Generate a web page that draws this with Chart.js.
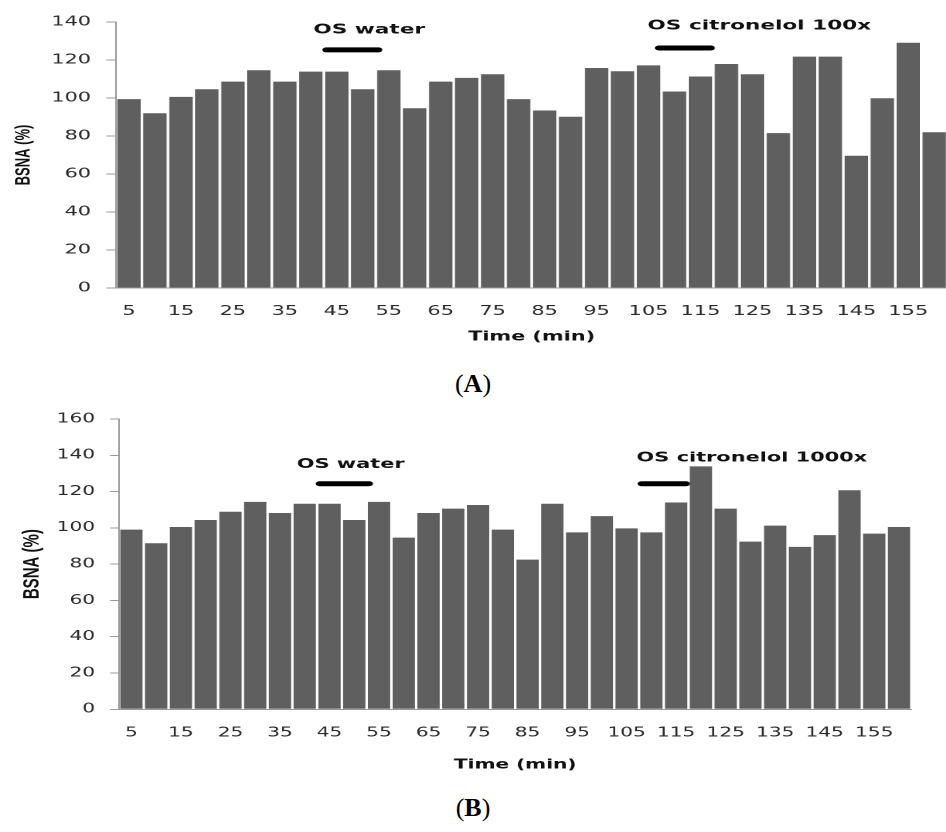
<!DOCTYPE html>
<html>
<head>
<meta charset="utf-8">
<script src="https://cdn.jsdelivr.net/npm/chart.js@4/dist/chart.umd.min.js"></script>
<style>
  html, body { margin: 0; padding: 0; background: #fff; }
  body { width: 946px; height: 832px; overflow: hidden; position: relative; }
  canvas { position: absolute; left: 0; }
  .panel-tag {
    position: absolute; left: 0; width: 946px; text-align: center;
    font-family: "Liberation Serif", "Times New Roman", serif;
    font-size: 26px; line-height: 30px; color: #000;
  }
</style>
</head>
<body>
<canvas id="chartA" width="600" height="350" style="top:0;width:960px;height:350px"></canvas>
<canvas id="chartB" width="612" height="380" style="top:400px;width:945.5px;height:380px"></canvas>
<div class="panel-tag" style="top:369px">(<b>A</b>)</div>
<div class="panel-tag" style="top:793px">(<b>B</b>)</div>
<script>
// Sampling times (min)
const times = [5, 10, 15, 20, 25, 30, 35, 40, 45, 50, 55, 60, 65, 70, 75, 80,
               85, 90, 95, 100, 105, 110, 115, 120, 125, 130, 135, 140, 145, 150, 155, 160];
// Times that carry a tick label on the x axis
const shownTimes = [5, 15, 25, 35, 45, 55, 65, 75, 85, 95, 105, 115, 125, 135, 145, 155];

// BSNA (%) per interval, citronelol 100x experiment
const bsnaA = [99.4, 92, 100.6, 104.6, 108.6, 114.6, 108.6, 113.9, 113.9, 104.6, 114.6, 94.6,
               108.6, 110.6, 112.5, 99.4, 93.4, 90.1, 115.8, 114.1, 117.2, 103.4, 111.3, 117.9,
               112.5, 81.5, 121.8, 121.8, 69.6, 99.9, 129.1, 82];
// BSNA (%) per interval, citronelol 1000x experiment
const bsnaB = [99, 91.5, 100.5, 104.3, 108.9, 114.3, 108.2, 113.3, 113.3, 104.3, 114.3, 94.6,
               108.2, 110.6, 112.6, 99, 82.5, 113.3, 97.5, 106.5, 99.7, 97.5, 114, 133.9,
               110.6, 92.4, 101.2, 89.5, 96, 120.7, 96.8, 100.5];

// Odour stimulation periods (min) and their captions
const stimuliA = [
  { label: 'OS water', from: 43, to: 53, textAt: 40.5, textLevel: 135.8, barLevel: 125.3 },
  { label: 'OS citronelol 100x', from: 107, to: 117, textAt: 104.8, textLevel: 137.9, barLevel: 126.3 }
];
const stimuliB = [
  { label: 'OS water', from: 43, to: 53, textAt: 38.4, textLevel: 134.8, barLevel: 124.3 },
  { label: 'OS citronelol 1000x', from: 108, to: 117, textAt: 107, textLevel: 138.6, barLevel: 124.3 }
];

const minuteToIndex = t => (t - times[0]) / (times[1] - times[0]);

// Black bars marking each stimulation period, with their captions
const stimulusMarkers = {
  id: 'stimulusMarkers',
  afterDatasetsDraw(chart, args, opts) {
    const { ctx, scales: { x, y } } = chart;
    (opts.items || []).forEach(m => {
      ctx.save();
      ctx.lineCap = 'round';
      ctx.lineWidth = 5;
      ctx.strokeStyle = '#000';
      const yb = y.getPixelForValue(m.barLevel);
      ctx.beginPath();
      ctx.moveTo(x.getPixelForValue(minuteToIndex(m.from)), yb);
      ctx.lineTo(x.getPixelForValue(minuteToIndex(m.to)), yb);
      ctx.stroke();
      ctx.font = 'bold 13.5px "DejaVu Sans"';
      ctx.fillStyle = '#111';
      ctx.textAlign = 'left';
      ctx.textBaseline = 'middle';
      ctx.fillText(m.label, x.getPixelForValue(minuteToIndex(m.textAt)), y.getPixelForValue(m.textLevel));
      ctx.restore();
    });
  }
};

const AXIS_GREY = '#9a9a9a';
const TEXT_DARK = '#2a2a2a';

function buildChart(id, values, yMax, stimuli, g) {
  return new Chart(document.getElementById(id), {
    type: 'bar',
    data: {
      labels: times.map(String),
      datasets: [{
        data: values,
        backgroundColor: '#5f5f5f',
        borderWidth: 0,
        barPercentage: 0.9,
        categoryPercentage: 1.0
      }]
    },
    options: {
      responsive: false,
      devicePixelRatio: 2,
      animation: false,
      events: [],
      layout: { padding: { top: g.top, right: g.right, left: 0, bottom: 0 } },
      plugins: {
        legend: { display: false },
        tooltip: { enabled: false },
        stimulusMarkers: { items: stimuli }
      },
      scales: {
        x: {
          grid: { display: false, drawTicks: false },
          border: { color: AXIS_GREY, width: 1 },
          ticks: {
            autoSkip: false, maxRotation: 0, minRotation: 0,
            padding: g.xTickPad,
            color: TEXT_DARK,
            font: { family: 'DejaVu Sans', size: 13 },
            callback: (v, i) => shownTimes.includes(times[i]) ? String(times[i]) : ''
          },
          title: {
            display: true, text: 'Time (min)', color: '#111',
            font: { family: 'DejaVu Sans', size: 13, weight: 'bold' },
            padding: { top: 0, bottom: g.xTitlePad }
          },
          afterFit: s => { s.height = g.xHeight; }
        },
        y: {
          min: 0, max: yMax,
          grid: { drawOnChartArea: false, drawTicks: true, tickLength: g.tickLen, color: AXIS_GREY, lineWidth: 1 },
          border: { color: AXIS_GREY, width: 1 },
          ticks: {
            stepSize: 20,
            padding: g.yTickPad,
            color: TEXT_DARK,
            font: { family: 'DejaVu Sans', size: 13 }
          },
          title: {
            display: true, text: 'BSNA (%)', color: '#111',
            font: { family: 'Liberation Sans', size: g.yTitleSize, weight: 'bold' },
            padding: { top: g.yTitlePad, bottom: 0 }
          },
          afterFit: s => { s.width = g.yWidth; }
        }
      }
    },
    plugins: [stimulusMarkers]
  });
}

buildChart('chartA', bsnaA, 140, stimuliA, {
  top: 22, right: 4.4, xHeight: 62, xTickPad: 16, xTitlePad: 5.2,
  yWidth: 72.5, tickLen: 6, yTickPad: 9.6, yTitleSize: 13, yTitlePad: 7
});
buildChart('chartB', bsnaB, 160, stimuliB, {
  top: 19, right: 22.4, xHeight: 70.7, xTickPad: 16, xTitlePad: 7.2,
  yWidth: 77.0, tickLen: 5.8, yTickPad: 9.7, yTitleSize: 15, yTitlePad: 12
});
</script>
</body>
</html>
